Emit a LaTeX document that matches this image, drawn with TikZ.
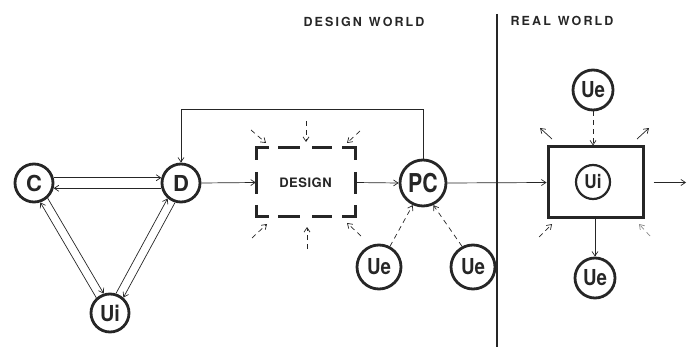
\documentclass[tikz,border=0pt]{standalone}
\usepackage{fontspec}
\setmainfont{TeX Gyre Heros}
\usetikzlibrary{arrows.meta}
\begin{document}
\begin{tikzpicture}[x=1pt,y=-1pt,
  ink/.style={color=black!85},
  circ/.style={circle, draw=black!85, text=black!85, line width=2.8pt, inner sep=0pt, minimum size=#1pt,
     font=\bfseries\fontsize{22}{22}\selectfont},
  arr/.style={draw=black!85, line width=0.7pt, -{Straight Barb[length=4.5pt,width=6pt]}},
  darr/.style={arr, dash pattern=on 5pt off 4pt},
  heavy/.style={draw=black!85, line width=3pt, line cap=butt},
  lab/.style={text=black!85, font=\bfseries\fontsize{12.5}{12.5}\selectfont}]
\useasboundingbox (0,0) rectangle (687,347);
% world labels and divider
\node[lab] (dw) at (364,22) {D\,E\,S\,I\,G\,N\ \ W\,O\,R\,L\,D};
\node[lab] (rwl) at (562,21) {R\,E\,A\,L\ \ W\,O\,R\,L\,D};
\draw[draw=black!85, line width=2pt] (497,14) -- (497,347);
% nodes
\node[circ=38] (C) at (34,183) {C};
\node[circ=38] (D) at (181,183) {D};
\node[circ=38] (Ui) at (110,313) {\scalebox{0.9}[1]{Ui}};
\node[rectangle, minimum width=99pt, minimum height=69pt, text=black!85,
      font=\bfseries\fontsize{13}{13}\selectfont] (design) at (305.5,182.5) {D\kern0.5pt E\kern0.5pt S\kern0.5pt I\kern0.5pt G\kern0.5pt N};
\node[circ=46, font=\bfseries\fontsize{26}{26}\selectfont] (PC) at (423,183) {\scalebox{0.82}[1]{PC}};
\node[circ=44] (Ue1) at (379,267) {\scalebox{0.85}[1]{Ue}};
\node[circ=44] (Ue2) at (473,267) {\scalebox{0.85}[1]{Ue}};
\node[rectangle, draw=black!85, line width=3pt, minimum width=95pt, minimum height=71pt] (rw) at (595.5,182.5) {};
\node[circ=34, line width=2.2pt, font=\bfseries\fontsize{19}{19}\selectfont] (Ui2) at (593,182) {\scalebox{0.9}[1]{Ui}};
\node[circ=40] (Ue3) at (593,90) {\scalebox{0.85}[1]{Ue}};
\node[circ=40] (Ue4) at (595,278) {\scalebox{0.85}[1]{Ue}};
\coordinate (out) at (686,182.5);
% dashed design box
\draw[heavy] (256,160) -- (256,148) -- (269,148);
\draw[heavy] (278,148) -- (300,148);
\draw[heavy] (312,148) -- (332,148);
\draw[heavy] (342,148) -- (355,148) -- (355,160);
\draw[heavy] (256,172) -- (256,194);
\draw[heavy] (355,172) -- (355,194);
\draw[heavy] (256,205) -- (256,217) -- (269,217);
\draw[heavy] (278,217) -- (300,217);
\draw[heavy] (312,217) -- (332,217);
\draw[heavy] (342,217) -- (355,217) -- (355,205);
% triangle connectors
\draw[arr] (C.15) -- (D.165);
\draw[arr] (D.-165) -- (C.-15);
\draw[arr] (C.-48) -- (Ui.108);
\draw[arr] (Ui.132) -- (C.-72);
\draw[arr] (Ui.73) -- (D.-131);
\draw[arr] (D.-107) -- (Ui.49);
% main flow
\draw[arr] (D.east) -- (design.west);
\draw[arr] (design.east) -- (PC.west);
\draw[arr] (PC.north) -- ++(0,-49) -| (D.north);
\draw[arr] (PC.east) -- (rw.west);
\draw[arr] ([xshift=9pt]rw.east) -- (out);
% influences on design
\coordinate (a1) at (251,130); \coordinate (b1) at (266,143);
\coordinate (a2) at (306,121); \coordinate (b2) at (306,142);
\coordinate (a3) at (360,131); \coordinate (b3) at (347,143);
\coordinate (a4) at (252,238); \coordinate (b4) at (267,224);
\coordinate (a5) at (307,249); \coordinate (b5) at (307,227);
\coordinate (a6) at (361,236); \coordinate (b6) at (347,223);
\draw[darr] (a1) -- (b1);
\draw[darr] (a2) -- (b2);
\draw[darr] (a3) -- (b3);
\draw[darr] (a4) -- (b4);
\draw[darr] (a5) -- (b5);
\draw[darr] (a6) -- (b6);
\draw[darr] (Ue1.62) -- (PC.-115);
\draw[darr] (Ue2.118) -- (PC.-65);
% real world
\draw[darr] (Ue3.south) -- (rw.north -| Ue3.south);
\draw[arr] (rw.south -| Ue4.north) -- (Ue4.north);
\coordinate (c1) at (552,139); \coordinate (d1) at (540,128);
\coordinate (c2) at (637,139); \coordinate (d2) at (649,128);
\coordinate (c3) at (539,237); \coordinate (d3) at (552,224);
\coordinate (c4) at (650,236); \coordinate (d4) at (639,224);
\draw[arr] (c1) -- (d1);
\draw[arr] (c2) -- (d2);
\draw[darr] (c3) -- (d3);
\draw[darr, draw=black!45] (c4) -- (d4);
\end{tikzpicture}
\end{document}
